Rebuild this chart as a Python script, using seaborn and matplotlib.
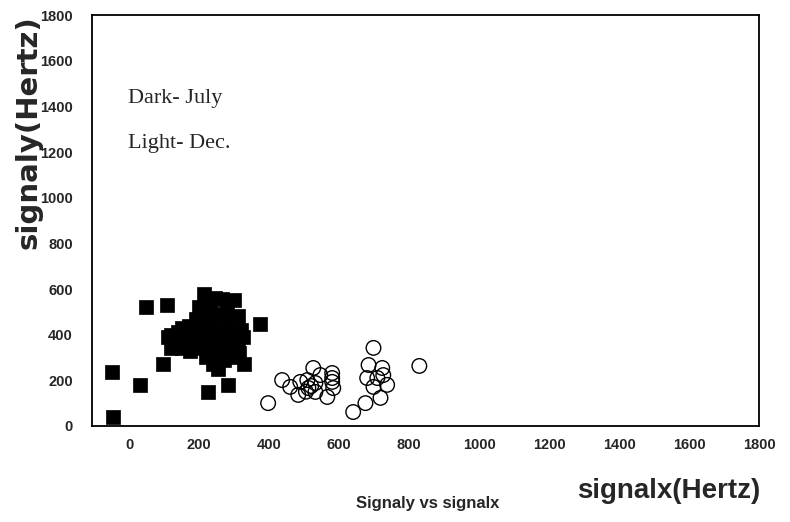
import matplotlib
matplotlib.use("Agg")
import matplotlib.pyplot as plt
import seaborn as sns
import pandas as pd
from matplotlib.ticker import MultipleLocator

sns.set_style("white")
plt.rcParams['font.family'] = ['Liberation Sans', 'DejaVu Sans']

# July (dark squares)
july_x = [-50, -46, 31, 49, 108, 97, 226, 283, 329, 375, 214, 245, 265, 300,
          200, 230, 280, 190, 220, 250, 280, 310, 150, 170, 200, 230, 260, 290,
          320, 120, 140, 180, 210, 240, 270, 300, 325, 130, 160, 190, 220, 250,
          280, 310, 120, 150, 200, 230, 260, 290, 315, 175, 220, 245, 270, 300,
          240, 255, 165, 110]
july_y = [236, 40, 180, 521, 530, 272, 149, 180, 272, 447, 580, 560, 555, 550,
          520, 520, 510, 470, 480, 490, 470, 480, 430, 440, 430, 440, 430, 440,
          420, 400, 410, 400, 410, 400, 410, 400, 390, 370, 360, 370, 370, 380,
          370, 360, 340, 340, 340, 330, 340, 330, 320, 330, 300, 300, 290, 300,
          270, 250, 420, 390]

# December (open circles)
dec_x = [397, 437, 460, 483, 489, 509, 512, 526, 532, 532, 546, 580, 580, 566,
         583, 640, 698, 684, 723, 680, 709, 726, 737, 698, 718, 675, 829, 520,
         505, 580]
dec_y = [100, 201, 171, 136, 193, 201, 166, 254, 188, 149, 223, 232, 193, 127,
         166, 61, 342, 267, 254, 210, 210, 223, 180, 171, 123, 100, 263, 175,
         150, 210]

x_ticks = [0, 200, 400, 600, 800, 1000, 1200, 1400, 1600, 1800]
y_ticks = [0, 200, 400, 600, 800, 1000, 1200, 1400, 1600, 1800]

july = pd.DataFrame({"x": july_x, "y": july_y})
dec = pd.DataFrame({"x": dec_x, "y": dec_y})

fig = plt.figure(figsize=(7.9, 5.22), dpi=100)
ax = fig.add_axes([0.117, 0.184, 0.844, 0.787])

sns.scatterplot(data=july, x="x", y="y", marker="s", s=110, color="black",
                edgecolor="black", linewidth=0.5, ax=ax, zorder=3)
sns.scatterplot(data=dec, x="x", y="y", marker="o", s=110, facecolor="none",
                edgecolor="black", linewidth=1.0, ax=ax, zorder=2)

ax.set_xlim(-105, 1800)
ax.set_ylim(0, 1800)
ax.set_xticks(x_ticks)
ax.set_yticks(y_ticks)
ax.xaxis.set_minor_locator(MultipleLocator(50))
ax.yaxis.set_minor_locator(MultipleLocator(50))
ax.tick_params(which="major", direction="in", length=13, width=1.3,
               top=False, right=False)
ax.tick_params(axis="x", which="major", pad=9)
ax.tick_params(axis="y", which="major", pad=14)
ax.tick_params(which="minor", direction="in", length=7, width=1.3,
               top=False, right=False)
ax.grid(False)
for sp in ax.spines.values():
    sp.set_color("black")
    sp.set_linewidth(1.3)

for lab in ax.get_xticklabels() + ax.get_yticklabels():
    lab.set_fontfamily(['Liberation Sans', 'DejaVu Sans'])
    lab.set_fontweight('bold')
    lab.set_fontsize(10.5)

ax.set_xlabel("")
ax.set_ylabel("")

fig.text(0.036, 0.971, "signaly(Hertz)", rotation=90, ha="center", va="top",
         fontsize=21, fontweight="bold", family=['DejaVu Sans'])
fig.text(0.962, 0.060, "signalx(Hertz)", ha="right", va="center",
         fontsize=20, fontweight="bold", family=['Liberation Sans', 'DejaVu Sans'])
fig.text(0.541, 0.036, "Signaly vs signalx", ha="center", va="center",
         fontsize=12, fontweight="bold", family=['Liberation Sans', 'DejaVu Sans'])

fig.text(0.162, 0.812, "Dark- July", ha="left", va="center",
         fontsize=16, family=['Liberation Serif', 'DejaVu Serif'])
fig.text(0.162, 0.726, "Light- Dec.", ha="left", va="center",
         fontsize=16, family=['Liberation Serif', 'DejaVu Serif'])

fig.savefig("out.png", dpi=100)
